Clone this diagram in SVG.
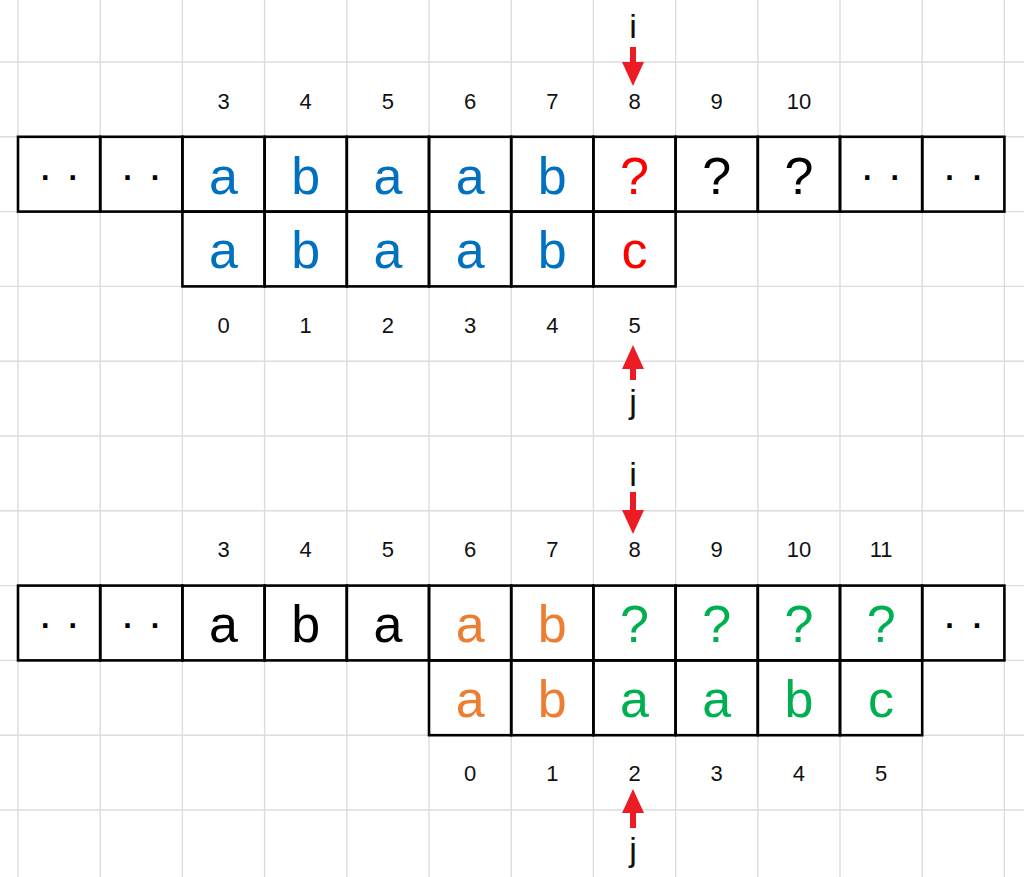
<svg xmlns="http://www.w3.org/2000/svg" width="1024" height="877" viewBox="0 0 1024 877">
<style>
.grid line{stroke:#dcdcdc;stroke-width:1.4}
.cell{fill:none;stroke:#000;stroke-width:2.6}
.idx{font-family:"Liberation Sans",Arial,sans-serif;font-size:22px;fill:#111;text-anchor:middle}
.ch{font-family:"Liberation Sans",Arial,sans-serif;font-size:52px;text-anchor:middle}
.dots{font-family:"Liberation Sans",Arial,sans-serif;font-size:45px;fill:#000;text-anchor:middle}
.ptr{font-family:"Liberation Sans",Arial,sans-serif;font-size:34px;fill:#111;text-anchor:middle}
.blue{fill:#0070C0}.red{fill:#FF0000}.blk{fill:#000}.org{fill:#ED7D31}.grn{fill:#00B050}
.arrow{stroke:#ED1C24;stroke-width:6;marker-end:url(#ah)}
</style>
<defs>
<marker id="ah" markerUnits="userSpaceOnUse" markerWidth="24" markerHeight="22" viewBox="0 0 24 22" refX="1" refY="11" orient="auto">
<path d="M0,0 L24,11 L0,22 z" fill="#ED1C24"/>
</marker>
</defs>
<rect width="1024" height="877" fill="#fff"/>
<g class="grid">
<line x1="18" y1="0" x2="18" y2="877"/><line x1="100.2" y1="0" x2="100.2" y2="877"/><line x1="182.4" y1="0" x2="182.4" y2="877"/><line x1="264.6" y1="0" x2="264.6" y2="877"/><line x1="346.8" y1="0" x2="346.8" y2="877"/><line x1="429" y1="0" x2="429" y2="877"/><line x1="511.2" y1="0" x2="511.2" y2="877"/><line x1="593.4" y1="0" x2="593.4" y2="877"/><line x1="675.6" y1="0" x2="675.6" y2="877"/><line x1="757.8" y1="0" x2="757.8" y2="877"/><line x1="840" y1="0" x2="840" y2="877"/><line x1="922.2" y1="0" x2="922.2" y2="877"/><line x1="1004.4" y1="0" x2="1004.4" y2="877"/>
<line x1="0" y1="62" x2="1024" y2="62"/><line x1="0" y1="136.8" x2="1024" y2="136.8"/><line x1="0" y1="211.6" x2="1024" y2="211.6"/><line x1="0" y1="286.4" x2="1024" y2="286.4"/><line x1="0" y1="361.2" x2="1024" y2="361.2"/><line x1="0" y1="436" x2="1024" y2="436"/><line x1="0" y1="510.8" x2="1024" y2="510.8"/><line x1="0" y1="585.6" x2="1024" y2="585.6"/><line x1="0" y1="660.4" x2="1024" y2="660.4"/><line x1="0" y1="735.2" x2="1024" y2="735.2"/><line x1="0" y1="810" x2="1024" y2="810"/>
</g>

<g id="top-text-row">
<rect class="cell" x="18" y="136.8" width="82.2" height="74.8"/><text class="dots" x="59.1" y="189.5">· ·</text>
<rect class="cell" x="100.2" y="136.8" width="82.2" height="74.8"/><text class="dots" x="141.3" y="189.5">· ·</text>
<rect class="cell" x="182.4" y="136.8" width="82.2" height="74.8"/><text class="ch blue" x="223.5" y="193.5">a</text>
<rect class="cell" x="264.6" y="136.8" width="82.2" height="74.8"/><text class="ch blue" x="305.7" y="193.5">b</text>
<rect class="cell" x="346.8" y="136.8" width="82.2" height="74.8"/><text class="ch blue" x="387.9" y="193.5">a</text>
<rect class="cell" x="429" y="136.8" width="82.2" height="74.8"/><text class="ch blue" x="470.1" y="193.5">a</text>
<rect class="cell" x="511.2" y="136.8" width="82.2" height="74.8"/><text class="ch blue" x="552.3" y="193.5">b</text>
<rect class="cell" x="593.4" y="136.8" width="82.2" height="74.8"/><text class="ch red" x="634.5" y="193.5">?</text>
<rect class="cell" x="675.6" y="136.8" width="82.2" height="74.8"/><text class="ch blk" x="716.7" y="193.5">?</text>
<rect class="cell" x="757.8" y="136.8" width="82.2" height="74.8"/><text class="ch blk" x="798.9" y="193.5">?</text>
<rect class="cell" x="840" y="136.8" width="82.2" height="74.8"/><text class="dots" x="881.1" y="189.5">· ·</text>
<rect class="cell" x="922.2" y="136.8" width="82.2" height="74.8"/><text class="dots" x="963.3" y="189.5">· ·</text>
</g>
<g id="top-pattern-row">
<rect class="cell" x="182.4" y="211.6" width="82.2" height="74.8"/><text class="ch blue" x="223.5" y="268">a</text>
<rect class="cell" x="264.6" y="211.6" width="82.2" height="74.8"/><text class="ch blue" x="305.7" y="268">b</text>
<rect class="cell" x="346.8" y="211.6" width="82.2" height="74.8"/><text class="ch blue" x="387.9" y="268">a</text>
<rect class="cell" x="429" y="211.6" width="82.2" height="74.8"/><text class="ch blue" x="470.1" y="268">a</text>
<rect class="cell" x="511.2" y="211.6" width="82.2" height="74.8"/><text class="ch blue" x="552.3" y="268">b</text>
<rect class="cell" x="593.4" y="211.6" width="82.2" height="74.8"/><text class="ch red" x="634.5" y="268">c</text>
</g>
<g id="top-indices">
<text class="idx" x="223.5" y="108.5">3</text><text class="idx" x="305.7" y="108.5">4</text><text class="idx" x="387.9" y="108.5">5</text><text class="idx" x="470.1" y="108.5">6</text><text class="idx" x="552.3" y="108.5">7</text><text class="idx" x="634.5" y="108.5">8</text><text class="idx" x="716.7" y="108.5">9</text><text class="idx" x="798.9" y="108.5">10</text>
<text class="idx" x="223.5" y="332.5">0</text><text class="idx" x="305.7" y="332.5">1</text><text class="idx" x="387.9" y="332.5">2</text><text class="idx" x="470.1" y="332.5">3</text><text class="idx" x="552.3" y="332.5">4</text><text class="idx" x="634.5" y="332.5">5</text>
</g>
<g id="top-i"><text class="ptr" x="633" y="38">i</text></g>
<g id="top-j"><text class="ptr" x="633" y="413">j</text></g>

<g id="bottom-text-row">
<rect class="cell" x="18" y="585.6" width="82.2" height="74.8"/><text class="dots" x="59.1" y="638">· ·</text>
<rect class="cell" x="100.2" y="585.6" width="82.2" height="74.8"/><text class="dots" x="141.3" y="638">· ·</text>
<rect class="cell" x="182.4" y="585.6" width="82.2" height="74.8"/><text class="ch blk" x="223.5" y="642">a</text>
<rect class="cell" x="264.6" y="585.6" width="82.2" height="74.8"/><text class="ch blk" x="305.7" y="642">b</text>
<rect class="cell" x="346.8" y="585.6" width="82.2" height="74.8"/><text class="ch blk" x="387.9" y="642">a</text>
<rect class="cell" x="429" y="585.6" width="82.2" height="74.8"/><text class="ch org" x="470.1" y="642">a</text>
<rect class="cell" x="511.2" y="585.6" width="82.2" height="74.8"/><text class="ch org" x="552.3" y="642">b</text>
<rect class="cell" x="593.4" y="585.6" width="82.2" height="74.8"/><text class="ch grn" x="634.5" y="642">?</text>
<rect class="cell" x="675.6" y="585.6" width="82.2" height="74.8"/><text class="ch grn" x="716.7" y="642">?</text>
<rect class="cell" x="757.8" y="585.6" width="82.2" height="74.8"/><text class="ch grn" x="798.9" y="642">?</text>
<rect class="cell" x="840" y="585.6" width="82.2" height="74.8"/><text class="ch grn" x="881.1" y="642">?</text>
<rect class="cell" x="922.2" y="585.6" width="82.2" height="74.8"/><text class="dots" x="963.3" y="638">· ·</text>
</g>
<g id="bottom-pattern-row">
<rect class="cell" x="429" y="660.4" width="82.2" height="74.8"/><text class="ch org" x="470.1" y="717">a</text>
<rect class="cell" x="511.2" y="660.4" width="82.2" height="74.8"/><text class="ch org" x="552.3" y="717">b</text>
<rect class="cell" x="593.4" y="660.4" width="82.2" height="74.8"/><text class="ch grn" x="634.5" y="717">a</text>
<rect class="cell" x="675.6" y="660.4" width="82.2" height="74.8"/><text class="ch grn" x="716.7" y="717">a</text>
<rect class="cell" x="757.8" y="660.4" width="82.2" height="74.8"/><text class="ch grn" x="798.9" y="717">b</text>
<rect class="cell" x="840" y="660.4" width="82.2" height="74.8"/><text class="ch grn" x="881.1" y="717">c</text>
</g>
<g id="bottom-indices">
<text class="idx" x="223.5" y="557">3</text><text class="idx" x="305.7" y="557">4</text><text class="idx" x="387.9" y="557">5</text><text class="idx" x="470.1" y="557">6</text><text class="idx" x="552.3" y="557">7</text><text class="idx" x="634.5" y="557">8</text><text class="idx" x="716.7" y="557">9</text><text class="idx" x="798.9" y="557">10</text><text class="idx" x="881.1" y="557">11</text>
<text class="idx" x="470.1" y="781">0</text><text class="idx" x="552.3" y="781">1</text><text class="idx" x="634.5" y="781">2</text><text class="idx" x="716.7" y="781">3</text><text class="idx" x="798.9" y="781">4</text><text class="idx" x="881.1" y="781">5</text>
</g>
<g id="bottom-i"><text class="ptr" x="633" y="486">i</text></g>
<g id="bottom-j"><text class="ptr" x="633" y="861">j</text></g>

<g id="connectors">
<line class="arrow" x1="633" y1="47" x2="633" y2="63"/>
<line class="arrow" x1="633" y1="380" x2="633" y2="368"/>
<line class="arrow" x1="633" y1="492" x2="633" y2="511"/>
<line class="arrow" x1="633" y1="828" x2="633" y2="812"/>
</g>
</svg>
